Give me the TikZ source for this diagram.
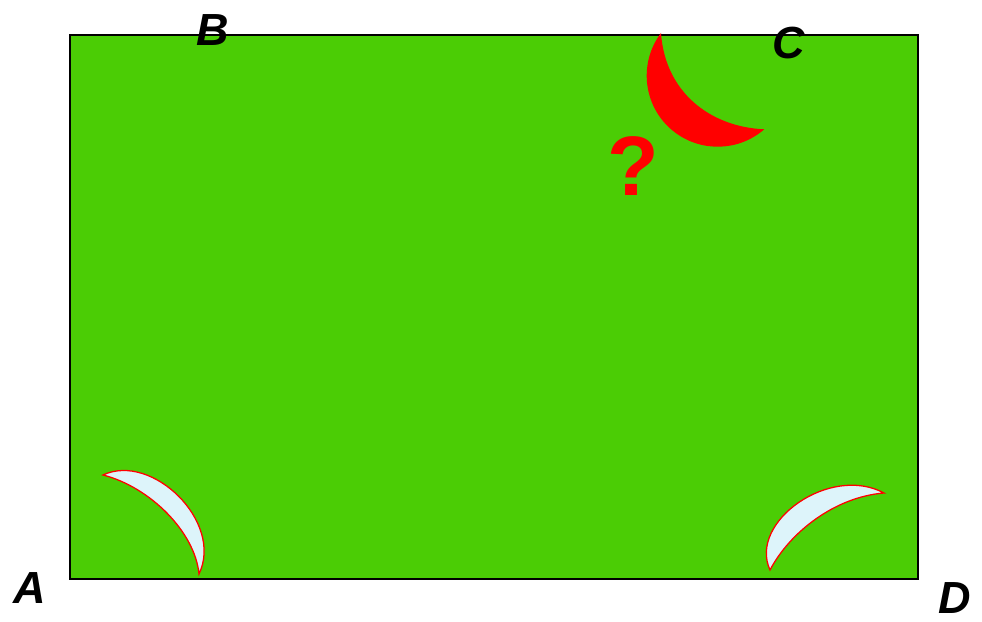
\documentclass[tikz,border=0pt]{standalone}
\usepackage{fontspec}
\setmainfont{Liberation Sans}
\definecolor{field}{RGB}{75,205,5}
\definecolor{blade}{RGB}{221,244,250}
\tikzset{corner/.style={font=\fontsize{32}{32}\selectfont\bfseries\itshape}}

\begin{document}
\begin{tikzpicture}[x=0.025cm, y=0.025cm, line width = 1pt]
  \useasboundingbox (0,0) rectangle (982,622);

  \draw[fill=field] (70,43) rectangle (918,587);

  % red crescent
  \fill[red] (661,589) arc[start angle=143, end angle=311, radius=71]
    .. controls (710,495) and (665,530) .. (661,589) -- cycle;
  \node[text=red, font=\fontsize{60}{60}\selectfont\bfseries] (q) at (633,456) {?};

  % white blades
  \draw[red, fill=blade, line width=0.9pt] (103,147) .. controls (152,170) and (224,100) .. (199,48)
    .. controls (195,90) and (150,135) .. (103,147) -- cycle;
  \draw[red, fill=blade, line width=0.9pt] (770,52) .. controls (748,100) and (830,158) .. (884,129)
    .. controls (835,125) and (790,90) .. (770,52) -- cycle;

  \node[corner] (A) at (30,34) {A};
  \node[corner] (B) at (213,592) {B};
  \node[corner] (C) at (789,579) {C};
  \node[corner] (D) at (955,24) {D};

\end{tikzpicture}
\end{document}
